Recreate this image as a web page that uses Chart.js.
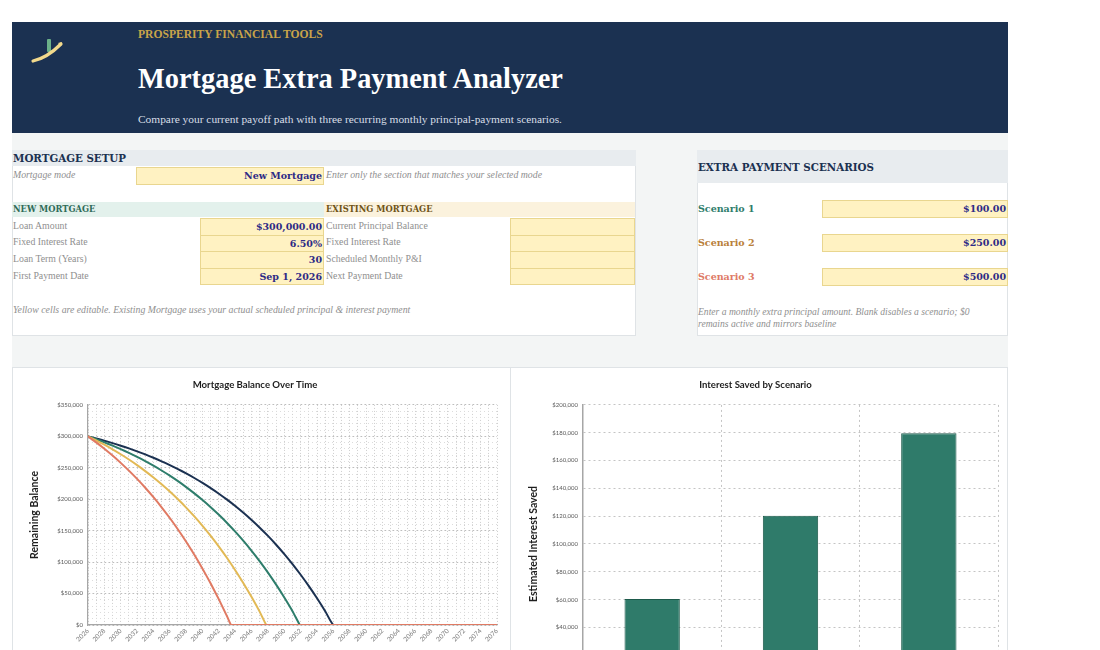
<!DOCTYPE html>
<html>
<head>
<meta charset="utf-8">
<script src="https://cdn.jsdelivr.net/npm/chart.js@4.4.1/dist/chart.umd.min.js"></script>
<style>
  html, body { margin:0; padding:0; width:1100px; height:650px; overflow:hidden; background:#ffffff; }
  .abs { position:absolute; }
  .bserif { font-family:"DejaVu Serif", serif; font-weight:bold; }
  .lbl { font-family:"Liberation Serif", serif; font-size:9.8px; color:#8f8f8f; white-space:nowrap; line-height:12px; }
  .ital { font-style:italic; }
  .cell { background:#fff2c2; border:1px solid #e9d68f; box-sizing:border-box; text-align:right;
          font-family:"DejaVu Serif", serif; font-weight:bold; font-size:9.5px; color:#2d2a86;
          line-height:15px; padding-right:1px; white-space:nowrap; }
  .panel { background:#ffffff; border:1px solid #dfe3e6; box-sizing:border-box; }
</style>
</head>
<body>
<!-- header -->
<div class="abs" style="left:12px;top:22px;width:996px;height:111px;background:#1b3151;"></div>
<svg class="abs" style="left:28px;top:34px;" width="40" height="34" viewBox="0 0 40 34">
  <rect x="19" y="5" width="4" height="13" rx="1" fill="#74c08f" opacity="0.9"/>
  <path d="M5 27 C 14 25, 24 19, 33 10" stroke="#f2d98c" stroke-width="3.2" fill="none" stroke-linecap="round"/>
  <path d="M30 9 L34 8 L33 12 Z" fill="#f2d98c"/>
</svg>
<div class="abs" style="left:138px;top:28px;font-family:'Liberation Serif',serif;font-weight:bold;font-size:11.6px;color:#c9a449;white-space:nowrap;">PROSPERITY FINANCIAL TOOLS</div>
<div class="abs" style="left:138px;top:62px;font-family:'Liberation Serif',serif;font-weight:bold;font-size:28.4px;color:#ffffff;white-space:nowrap;line-height:34px;">Mortgage Extra Payment Analyzer</div>
<div class="abs" style="left:138px;top:113px;font-family:'Liberation Serif',serif;font-size:11.4px;color:#d8dee7;white-space:nowrap;">Compare your current payoff path with three recurring monthly principal-payment scenarios.</div>

<!-- grey band -->
<div class="abs" style="left:12px;top:133px;width:996px;height:234px;background:#f3f5f5;"></div>

<!-- mortgage setup panel -->
<div class="abs panel" style="left:12px;top:150px;width:624px;height:186px;"></div>
<div class="abs" style="left:12px;top:150px;width:624px;height:16px;background:#e8ecef;"></div>
<div class="abs bserif" style="left:13px;top:151px;font-size:10.3px;color:#1b3151;line-height:14px;">MORTGAGE SETUP</div>

<div class="abs lbl ital" style="left:13px;top:169px;">Mortgage mode</div>
<div class="abs cell" style="left:136px;top:167px;width:188px;height:18px;">New Mortgage</div>
<div class="abs lbl ital" style="left:326px;top:169px;">Enter only the section that matches your selected mode</div>

<div class="abs" style="left:12px;top:202px;width:312px;height:15px;background:#e3f1ec;"></div>
<div class="abs bserif" style="left:13px;top:203px;font-size:8.3px;color:#2e6b58;line-height:13px;">NEW MORTGAGE</div>
<div class="abs" style="left:324px;top:202px;width:311px;height:15px;background:#fbf2dd;"></div>
<div class="abs bserif" style="left:326px;top:203px;font-size:8.3px;color:#6f5417;line-height:13px;">EXISTING MORTGAGE</div>

<div class="abs lbl" style="left:13px;top:220px;">Loan Amount</div>
<div class="abs lbl" style="left:13px;top:236px;">Fixed Interest Rate</div>
<div class="abs lbl" style="left:13px;top:253px;">Loan Term (Years)</div>
<div class="abs lbl" style="left:13px;top:270px;">First Payment Date</div>
<div class="abs cell" style="left:200px;top:218px;width:124px;height:18px;">$300,000.00</div>
<div class="abs cell" style="left:200px;top:235px;width:124px;height:17px;">6.50%</div>
<div class="abs cell" style="left:200px;top:251px;width:124px;height:18px;">30</div>
<div class="abs cell" style="left:200px;top:268px;width:124px;height:17px;">Sep 1, 2026</div>

<div class="abs lbl" style="left:326px;top:220px;">Current Principal Balance</div>
<div class="abs lbl" style="left:326px;top:236px;">Fixed Interest Rate</div>
<div class="abs lbl" style="left:326px;top:253px;">Scheduled Monthly P&amp;I</div>
<div class="abs lbl" style="left:326px;top:270px;">Next Payment Date</div>
<div class="abs cell" style="left:510px;top:218px;width:125px;height:18px;"></div>
<div class="abs cell" style="left:510px;top:235px;width:125px;height:17px;"></div>
<div class="abs cell" style="left:510px;top:251px;width:125px;height:18px;"></div>
<div class="abs cell" style="left:510px;top:268px;width:125px;height:17px;"></div>

<div class="abs lbl ital" style="left:13px;top:304px;">Yellow cells are editable. Existing Mortgage uses your actual scheduled principal &amp; interest payment</div>

<!-- scenarios panel -->
<div class="abs panel" style="left:697px;top:150px;width:311px;height:186px;"></div>
<div class="abs" style="left:697px;top:150px;width:311px;height:33px;background:#e8ecef;"></div>
<div class="abs bserif" style="left:698px;top:160px;font-size:10.3px;color:#1b3151;line-height:14px;">EXTRA PAYMENT SCENARIOS</div>

<div class="abs bserif" style="left:698px;top:202px;font-size:9.5px;color:#2e7d6b;line-height:14px;">Scenario 1</div>
<div class="abs bserif" style="left:698px;top:236px;font-size:9.5px;color:#b9803a;line-height:14px;">Scenario 2</div>
<div class="abs bserif" style="left:698px;top:270px;font-size:9.5px;color:#de7a66;line-height:14px;">Scenario 3</div>
<div class="abs cell" style="left:822px;top:200px;width:186px;height:18px;">$100.00</div>
<div class="abs cell" style="left:822px;top:234px;width:186px;height:18px;">$250.00</div>
<div class="abs cell" style="left:822px;top:268px;width:186px;height:18px;">$500.00</div>
<div class="abs lbl ital" style="left:698px;top:306px;font-size:9.6px;">Enter a monthly extra principal amount. Blank disables a scenario; $0</div>
<div class="abs lbl ital" style="left:698px;top:318px;font-size:9.6px;">remains active and mirrors baseline</div>

<!-- chart panels -->
<div class="abs panel" style="left:12px;top:367px;width:499px;height:300px;"></div>
<div class="abs panel" style="left:510px;top:367px;width:498px;height:300px;"></div>
<canvas id="balanceChart" class="abs" style="left:13px;top:368px;"></canvas>
<canvas id="savedChart" class="abs" style="left:513px;top:368px;"></canvas>

<script>
// ---------- data ----------
const years = [2026,2027,2028,2029,2030,2031,2032,2033,2034,2035,2036,2037,2038,2039,2040,2041,2042,2043,2044,2045,2046,2047,2048,2049,2050,2051,2052,2053,2054,2055,2056,2057,2058,2059,2060,2061,2062,2063,2064,2065,2066,2067,2068,2069,2070,2071,2072,2073,2074,2075,2076];
const seriesNames = ["Baseline", "Scenario 1", "Scenario 2", "Scenario 3"];
const baselineBalance = [300000,296647,293069,289251,285179,280834,276196,271249,265970,260338,254328,247916,241075,233775,225987,217677,208810,199349,189255,178485,166994,154733,141651,127693,112800,96909,79955,61865,42563,21968,0,0,0,0,0,0,0,0,0,0,0,0,0,0,0,0,0,0,0,0,0];
const scenario1Balance = [300000,295411,290514,285289,279714,273765,267419,260647,253422,245713,237487,228710,219346,209355,198694,187320,175184,162236,148419,133678,117949,101167,83262,64156,43771,22021,0,0,0,0,0,0,0,0,0,0,0,0,0,0,0,0,0,0,0,0,0,0,0,0,0];
const scenario2Balance = [300000,293556,286680,279344,271516,263164,254253,244744,234599,223775,212226,199902,186755,172725,157757,141787,124747,106566,87167,66468,44384,20822,0,0,0,0,0,0,0,0,0,0,0,0,0,0,0,0,0,0,0,0,0,0,0,0,0,0,0,0,0];
const scenario3Balance = [300000,290465,280293,269436,257854,245496,232311,218241,203231,187215,170121,151892,132437,111679,89531,65901,40689,13787,0,0,0,0,0,0,0,0,0,0,0,0,0,0,0,0,0,0,0,0,0,0,0,0,0,0,0,0,0,0,0,0,0];
const payoffYears = [2056.0, 2051.9, 2047.8, 2043.5];

const scenarioLabels = ["Scenario 1", "Scenario 2", "Scenario 3"];
const interestSaved = [60500, 120300, 179700];

// ---------- helpers ----------
function toPoints(balances, payoff) {
  const pts = [];
  let added = false;
  for (let i = 0; i < years.length; i++) {
    if (years[i] < payoff) { pts.push({x: years[i], y: balances[i]}); }
    else {
      if (!added) { pts.push({x: payoff, y: 0}); added = true; }
      if (years[i] > payoff) pts.push({x: years[i], y: balances[i]});
    }
  }
  return pts;
}
const money = v => '$' + Number(v).toLocaleString('en-US');
const tickFont = {family: 'Lato', size: 6};
const titleFont = {family: 'Lato', size: 9.6, weight: 'bold'};
const axisTitleFont = {family: 'Lato', size: 10.5, weight: 'bold'};

// ---------- balance chart ----------
const lineColors = ['#1b3151', '#2e7d6b', '#e2b955', '#e07a63'];
const balanceSets = [baselineBalance, scenario1Balance, scenario2Balance, scenario3Balance];
const bc = document.getElementById('balanceChart');
bc.width = 496; bc.height = 290;
new Chart(bc, {
  type: 'line',
  data: {
    datasets: balanceSets.map((b, i) => ({
      label: seriesNames[i],
      data: toPoints(b, payoffYears[i]),
      borderColor: lineColors[i],
      backgroundColor: lineColors[i],
      borderWidth: 2,
      pointRadius: 0,
      tension: 0.2,
      fill: false,
      order: 3 - i
    }))
  },
  options: {
    responsive: false,
    animation: false,
    layout: {padding: {left: 0, right: 12, top: 0, bottom: 0}},
    plugins: {
      legend: {display: false},
      tooltip: {enabled: false},
      title: {display: true, text: 'Mortgage Balance Over Time', font: titleFont, color: '#1e1e1e',
              padding: {top: 11.2, bottom: 14.2}}
    },
    scales: {
      x: {
        type: 'linear', min: 2026, max: 2076,
        ticks: {stepSize: 1, autoSkip: false, maxRotation: 45, minRotation: 45, font: {family: 'Lato', size: 6.5}, color: '#7a7a7a',
                padding: 2, callback: v => (v % 2 === 0 ? String(v) : '')},
        grid: {color: '#cdcdcd', lineWidth: 1, drawTicks: false},
        border: {display: true, color: '#a6a6a6', width: 1.2, dash: [1, 2]},
        afterFit: s => { s.height = 33; }
      },
      y: {
        min: 0, max: 350000,
        ticks: {stepSize: 50000, font: tickFont, color: '#595959', padding: 5, callback: v => money(v)},
        grid: {color: '#bdbdbd', lineWidth: 1, drawTicks: false},
        border: {display: true, color: '#a6a6a6', width: 1.2, dash: [2, 2]},
        title: {display: true, text: 'Remaining Balance', font: axisTitleFont, color: '#1e1e1e', padding: {top: 15.8, bottom: 0}},
        afterFit: s => { s.width = 75; }
      },
      yMinor: {
        position: 'left', min: 0, max: 350000, display: true,
        ticks: {stepSize: 10000, display: false},
        grid: {color: '#dcdcdc', lineWidth: 1, drawTicks: false},
        border: {display: false, dash: [1, 3]},
        afterFit: s => { s.width = 0; }
      }
    }
  }
});

// ---------- interest saved chart ----------
const sc = document.getElementById('savedChart');
sc.width = 494; sc.height = 360;
new Chart(sc, {
  type: 'bar',
  data: {
    labels: scenarioLabels,
    datasets: [{
      label: 'Estimated Interest Saved',
      data: interestSaved,
      backgroundColor: '#2f7b6a',
      borderColor: '#1d5a4b',
      borderWidth: 1,
      barPercentage: 0.4,
      categoryPercentage: 1.0
    }]
  },
  options: {
    responsive: false,
    animation: false,
    layout: {padding: {left: 0, right: 9, top: 0, bottom: 0}},
    plugins: {
      legend: {display: false},
      tooltip: {enabled: false},
      title: {display: true, text: 'Interest Saved by Scenario', font: titleFont, color: '#1e1e1e',
              padding: {top: 11.2, bottom: 14.2}}
    },
    scales: {
      x: {
        ticks: {font: {family: 'Lato', size: 8}, color: '#595959'},
        grid: {offset: true, color: '#c4c4c4', drawTicks: false},
        border: {display: true, color: '#a6a6a6', dash: [2, 3]},
        afterFit: s => { s.height = 45; }
      },
      y: {
        min: 0, max: 200000,
        ticks: {stepSize: 20000, font: tickFont, color: '#595959', padding: 5, callback: v => money(v)},
        grid: {color: '#c4c4c4', drawTicks: false},
        border: {display: true, color: '#a6a6a6', width: 1.5, dash: [2, 3]},
        title: {display: true, text: 'Estimated Interest Saved', font: axisTitleFont, color: '#1e1e1e', padding: {top: 14, bottom: 0}},
        afterFit: s => { s.width = 70; }
      }
    }
  }
});
</script>
</body>
</html>
